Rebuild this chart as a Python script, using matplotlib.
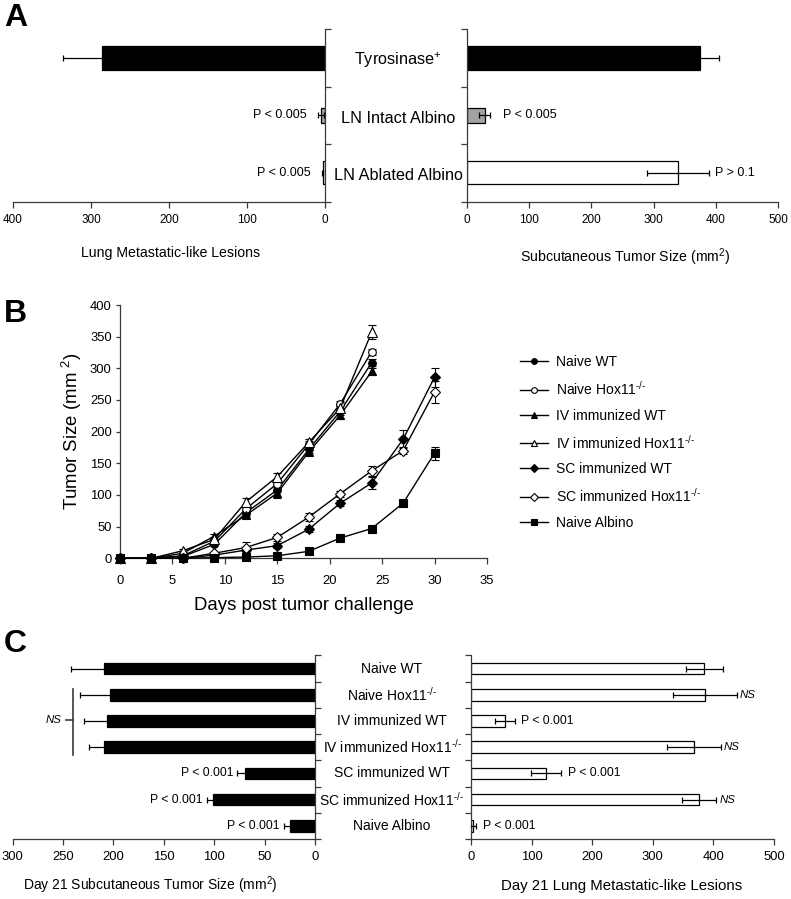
import matplotlib
matplotlib.use('Agg')
import matplotlib.pyplot as plt
from matplotlib.lines import Line2D
from matplotlib.transforms import blended_transform_factory

FAM = 'Liberation Sans'
plt.rcParams.update({
    'font.family': [FAM, 'DejaVu Sans'],
    'mathtext.fontset': 'custom',
    'mathtext.rm': FAM,
    'mathtext.it': FAM + ':italic',
    'mathtext.bf': FAM + ':bold',
    'mathtext.default': 'regular',
    'axes.linewidth': 0.9,
    'axes.edgecolor': '#3a3a3a',
    'xtick.color': '#3a3a3a',
    'ytick.color': '#3a3a3a',
    'xtick.labelcolor': 'black',
    'ytick.labelcolor': 'black',
})

# ---------------- data ----------------
# Panel A
a_groups = ['Tyrosinase$^{+}$', 'LN Intact Albino', 'LN Ablated Albino']
a_lung = [286, 5, 3]
a_lung_err = [50, 4, 1]
a_tumor = [374, 29, 339]
a_tumor_err = [31, 9, 49]
a_lung_p = ['', 'P < 0.005', 'P < 0.005']
a_tumor_p = ['', 'P < 0.005', 'P > 0.1']

# Panel B
days_short = [0, 3, 6, 9, 12, 15, 18, 21, 24]
days_long = [0, 3, 6, 9, 12, 15, 18, 21, 24, 27, 30]
naive_wt = [0, 0, 3, 22, 72, 108, 172, 232, 309]
naive_wt_err = [0, 0, 1, 3, 5, 12, 5, 5, 6]
naive_hox = [0, 0, 4, 27, 78, 118, 180, 244, 326]
naive_hox_err = [0, 0, 1, 3, 4, 6, 5, 4, 5]
iv_wt = [0, 0, 8, 35, 68, 103, 168, 226, 295]
iv_wt_err = [0, 0, 2, 4, 5, 6, 5, 6, 6]
iv_hox = [0, 0, 12, 30, 89, 129, 183, 237, 357]
iv_hox_err = [0, 0, 3, 4, 6, 6, 6, 5, 11]
sc_wt = [0, 0, 0, 5, 13, 20, 46, 87, 119, 188, 286]
sc_wt_err = [0, 0, 0, 2, 3, 4, 5, 5, 9, 14, 15]
sc_hox = [0, 0, 0, 8, 17, 33, 65, 102, 138, 170, 263]
sc_hox_err = [0, 0, 0, 2, 9, 5, 6, 5, 8, 5, 17]
albino = [0, 0, 0, 1, 2, 4, 11, 32, 47, 87, 166]
albino_err = [0, 0, 0, 0, 1, 1, 2, 3, 3, 3, 10]
b_labels = ['Naive WT', r'Naive Hox11$^{\text{-/-}}$', 'IV immunized WT',
            r'IV immunized Hox11$^{\text{-/-}}$', 'SC immunized WT',
            r'SC immunized Hox11$^{\text{-/-}}$', 'Naive Albino']

# Panel C
c_groups = ['Naive WT', r'Naive Hox11$^{\text{-/-}}$', 'IV immunized WT',
            r'IV immunized Hox11$^{\text{-/-}}$', 'SC immunized WT',
            r'SC immunized Hox11$^{\text{-/-}}$', 'Naive Albino']
c_tumor = [209, 203, 206, 209, 69.5, 101, 25]
c_tumor_err = [33, 30, 23, 15, 7.5, 6.5, 6]
c_lung = [385, 386, 56, 368, 124, 377, 4]
c_lung_err = [31, 53, 16, 44, 25, 28, 5]
c_tumor_p = ['', '', '', '', 'P < 0.001', 'P < 0.001', 'P < 0.001']
c_lung_p = ['', 'NS', 'P < 0.001', 'NS', 'P < 0.001', 'NS', 'P < 0.001']

# ---------------- figure ----------------
W, H = 791, 899
fig = plt.figure(figsize=(W / 100, H / 100), dpi=100)


def box(x0, x1, ytop, ybot):
    return [x0 / W, 1 - ybot / H, (x1 - x0) / W, (ybot - ytop) / H]


def style_bar_axes(ax, side):
    ax.spines['top'].set_visible(False)
    if side == 'left':
        ax.spines['left'].set_visible(False)
        ax.yaxis.tick_right()
    else:
        ax.spines['right'].set_visible(False)
        ax.yaxis.tick_left()
    ax.tick_params(axis='y', direction='out', length=4, width=0.9, labelright=False, labelleft=False)
    ax.tick_params(axis='x', direction='out', length=4, width=0.9)


# ---- Panel A ----
a_colors = ['black', '#a3a3a3', 'white']
a_heights = [0.42, 0.27, 0.40]
ypos_a = list(range(len(a_groups)))

axA1 = fig.add_axes(box(13, 325, 29, 201.7))
axA2 = fig.add_axes(box(466.7, 778.3, 29, 201.7))
for ax, vals, errs, side in [(axA1, a_lung, a_lung_err, 'left'),
                             (axA2, a_tumor, a_tumor_err, 'right')]:
    ax.barh(ypos_a, vals, height=a_heights, color=a_colors, edgecolor='black', linewidth=0.9, zorder=2)
    ax.errorbar(vals, ypos_a, xerr=errs, fmt='none', ecolor='black', elinewidth=0.9,
                capsize=2.4, capthick=0.9, zorder=3)
    ax.set_ylim(2.5, -0.5)
    ax.set_yticks([-0.5, 0.5, 1.5, 2.5])
    style_bar_axes(ax, side)
    ax.tick_params(axis='x', labelsize=8.5, pad=5)

axA1.set_xlim(400, 0)
axA1.set_xticks([0, 100, 200, 300, 400])
axA2.set_xlim(0, 500)
axA2.set_xticks([0, 100, 200, 300, 400, 500])

for i, t in enumerate(a_lung_p):
    if t:
        axA1.annotate(t, xy=(a_lung[i] + a_lung_err[i], i), xytext=(-8, 0),
                      textcoords='offset points', ha='right', va='center', fontsize=9)
a_r_off = [0, 9, 5]
for i, t in enumerate(a_tumor_p):
    if t:
        axA2.annotate(t, xy=(a_tumor[i] + a_tumor_err[i], i), xytext=(a_r_off[i], 0),
                      textcoords='offset points', ha='left', va='center', fontsize=9)

trA = blended_transform_factory(fig.transFigure, axA1.transData)
for i, g in enumerate(a_groups):
    axA1.text(398 / W, i + 0.05, g, transform=trA, ha='center', va='center', fontsize=11.7)

fig.text(171 / W, 1 - 253 / H, 'Lung Metastatic-like Lesions', ha='center', va='center', fontsize=10.2)
fig.text(625 / W, 1 - 257 / H, 'Subcutaneous Tumor Size (mm$^{2}$)', ha='center', va='center', fontsize=10.2)

# ---- Panel B ----
axB = fig.add_axes(box(120, 487, 305, 558.3))
series = [
    (days_short, naive_wt, naive_wt_err, 'o', 'black', 5.5),
    (days_short, naive_hox, naive_hox_err, 'o', 'white', 5.5),
    (days_short, iv_wt, iv_wt_err, '^', 'black', 6),
    (days_short, iv_hox, iv_hox_err, '^', 'white', 6.5),
    (days_long, sc_wt, sc_wt_err, 'D', 'black', 5),
    (days_long, sc_hox, sc_hox_err, 'D', 'white', 5),
    (days_long, albino, albino_err, 's', 'black', 5.5),
]
handles = []
for (x, y, e, m, fc, ms), lab in zip(series, b_labels):
    axB.errorbar(x, y, yerr=e, fmt='none', ecolor='black', elinewidth=0.8, capsize=3,
                 capthick=0.8, clip_on=False, zorder=2)
    axB.plot(x, y, color='black', lw=1, marker=m, markerfacecolor=fc, markeredgecolor='black',
             markeredgewidth=0.8, markersize=ms, clip_on=False, zorder=3)
    handles.append(Line2D([0], [0], color='black', lw=1, marker=m, markerfacecolor=fc,
                          markeredgecolor='black', markeredgewidth=0.8, markersize=ms * 0.75))
axB.set_xlim(0, 35)
axB.set_ylim(0, 400)
axB.set_xticks(range(0, 36, 5))
axB.set_yticks(range(0, 401, 50))
axB.spines['top'].set_visible(False)
axB.spines['right'].set_visible(False)
axB.tick_params(axis='x', direction='out', length=4, width=0.9, labelsize=9.4, pad=8)
axB.tick_params(axis='y', direction='out', length=3, width=0.9, labelsize=9.4, pad=3)
fig.text(304 / W, 1 - 605 / H, 'Days post tumor challenge', ha='center', va='center', fontsize=13.4)
fig.text(72 / W, 1 - 431 / H, 'Tumor Size (mm $^{2}$)', ha='center', va='center',
         rotation=90, fontsize=13.4)
axB.legend(handles, b_labels, loc='upper left', bbox_to_anchor=(520 / W, 1 - 355 / H),
           bbox_transform=fig.transFigure, frameon=False, borderpad=0, borderaxespad=0,
           handlelength=2.0, handletextpad=0.6, labelspacing=0.78, fontsize=10)

# ---- Panel C ----
ypos_c = list(range(len(c_groups)))
axC1 = fig.add_axes(box(12.7, 315, 655.5, 839))
axC2 = fig.add_axes(box(471, 774, 655.5, 839))
axC1.barh(ypos_c, c_tumor, height=0.44, color='black', edgecolor='black', linewidth=0.9, zorder=2)
axC1.errorbar(c_tumor, ypos_c, xerr=c_tumor_err, fmt='none', ecolor='black', elinewidth=0.9,
              capsize=1.9, capthick=0.9, zorder=3)
axC2.barh(ypos_c, c_lung, height=0.44, color='white', edgecolor='black', linewidth=0.9, zorder=2)
axC2.errorbar(c_lung, ypos_c, xerr=c_lung_err, fmt='none', ecolor='black', elinewidth=0.9,
              capsize=1.9, capthick=0.9, zorder=3)
for ax, side in [(axC1, 'left'), (axC2, 'right')]:
    ax.set_ylim(6.5, -0.5)
    ax.set_yticks([i - 0.5 for i in range(8)])
    style_bar_axes(ax, side)
    ax.tick_params(axis='x', labelsize=9.4, pad=5)
axC1.set_xlim(300, 0)
axC1.set_xticks(range(0, 301, 50))
axC2.set_xlim(0, 500)
axC2.set_xticks(range(0, 501, 100))

for i, t in enumerate(c_tumor_p):
    if t:
        axC1.annotate(t, xy=(c_tumor[i] + c_tumor_err[i], i), xytext=(-3, 0),
                      textcoords='offset points', ha='right', va='center', fontsize=8.8)
for i, t in enumerate(c_lung_p):
    if t:
        ns = (t == 'NS')
        axC2.annotate(t, xy=(c_lung[i] + c_lung_err[i], i), xytext=(2 if ns else 4.5, 0),
                      textcoords='offset points', ha='left', va='center',
                      fontsize=8.2 if ns else 8.8, style='italic' if ns else 'normal')

# NS bracket
axC1.plot([240.6, 240.6], [0.77, 3.3], color='#3a3a3a', lw=1.2, clip_on=False)
axC1.plot([240.6, 247], [1.95, 1.95], color='#3a3a3a', lw=1.2, clip_on=False)
axC1.text(251.5, 1.95, 'NS', ha='right', va='center', fontsize=8.2, style='italic')

trC = blended_transform_factory(fig.transFigure, axC1.transData)
for i, g in enumerate(c_groups):
    axC1.text(392 / W, i, g, transform=trC, ha='center', va='center', fontsize=10)

fig.text(150 / W, 1 - 885 / H, 'Day 21 Subcutaneous Tumor Size (mm$^{2}$)', ha='center', va='center', fontsize=10)
fig.text(622 / W, 1 - 886 / H, 'Day 21 Lung Metastatic-like Lesions', ha='center', va='center', fontsize=10.8)

# panel letters
for lab, y in [('A', 18), ('B', 314), ('C', 644)]:
    fig.text(4 / W, 1 - y / H, lab, ha='left', va='center', fontsize=23, fontweight='bold')

fig.savefig('out.png', dpi=100)
